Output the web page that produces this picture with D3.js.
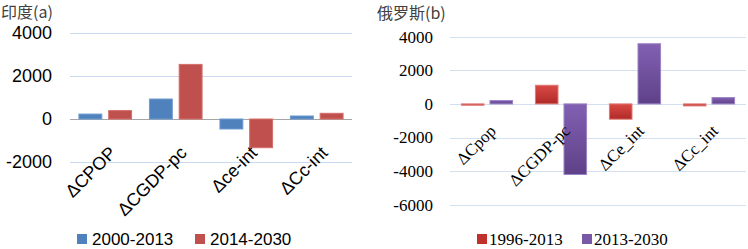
<!DOCTYPE html>
<html>
<head>
<meta charset="utf-8">
<script src="https://cdn.jsdelivr.net/npm/d3@7"></script>
<style>
  body { margin: 0; background: #fff; }
  svg { display: block; }
</style>
</head>
<body>
<svg id="chart" width="748" height="249"></svg>
<script>
// 印度 (a)
const indiaCats = ["ΔCPOP", "ΔCGDP-pc", "Δce-int", "ΔCc-int"];
const indiaSeries = ["2000-2013", "2014-2030"];
const india2000 = [230, 930, -465, 140];
const india2014 = [390, 2540, -1335, 265];
const indiaTicks = [-2000, 0, 2000, 4000];

// 俄罗斯 (b)
const russiaCats = ["ΔCpop", "ΔCGDP-pc", "ΔCe_int", "ΔCc_int"];
const russiaSeries = ["1996-2013", "2013-2030"];
const russia1996 = [-80, 1110, -910, -120];
const russia2013 = [200, -4200, 3580, 375];
const russiaTicks = [-6000, -4000, -2000, 0, 2000, 4000];

const svg = d3.select('#chart');

// gradients for the right chart
const defs = svg.append('defs');
function grad(id, c1, c2) {
    const g = defs.append('linearGradient').attr('id', id)
        .attr('x1', 0).attr('y1', 0).attr('x2', 0).attr('y2', 1);
    g.append('stop').attr('offset', '0%').attr('stop-color', c1);
    g.append('stop').attr('offset', '100%').attr('stop-color', c2);
}
grad('gRed', '#da4a44', '#b02a28');
grad('gPurple', '#8160b2', '#5f4188');

function drawPanel(opt) {
    const g = svg.append('g');
    const x0 = d3.scaleBand().domain(opt.cats).range(opt.xr);
    const x1 = d3.scaleBand().domain(opt.series).range([0, x0.bandwidth()])
        .paddingInner(opt.pin).paddingOuter(opt.pout);
    const y = d3.scaleLinear().domain(opt.yd).range(opt.yr);

    // gridlines
    g.selectAll('.grid').data(opt.ticks).join('line')
        .attr('x1', opt.xr[0]).attr('x2', opt.xr[1])
        .attr('y1', d => Math.round(y(d)) + 0.5).attr('y2', d => Math.round(y(d)) + 0.5)
        .attr('stroke', d => (d === 0 ? opt.zeroColor : opt.gridColor))
        .attr('stroke-width', 1);

    // tick labels
    g.selectAll('.tick').data(opt.ticks).join('text')
        .attr('x', opt.tickX).attr('y', d => y(d))
        .attr('dy', '0.35em')
        .attr('text-anchor', 'end')
        .style('font-family', opt.font).style('font-size', opt.fs).style('fill', '#000')
        .text(d => d);

    // bars
    const rows = opt.cats.map((c, i) => opt.series.map((s, j) => ({ cat: c, s: s, v: opt.values[j][i], j: j })));
    g.selectAll('.grp').data(rows).join('g')
        .attr('transform', (d, i) => `translate(${x0(opt.cats[i])},0)`)
        .selectAll('rect').data(d => d).join('rect')
        .attr('x', d => x1(d.s))
        .attr('width', x1.bandwidth())
        .attr('y', d => y(Math.max(0, d.v)))
        .attr('height', d => Math.abs(y(d.v) - y(0)))
        .attr('fill', d => opt.colors[d.j])
        .attr('stroke', d => opt.strokes[d.j])
        .attr('stroke-width', 1);

    // rotated category labels
    g.selectAll('.lab').data(opt.cats).join('text')
        .attr('transform', d => `translate(${x0(d) + x0.bandwidth() / 2 + opt.labDx},${opt.labY}) rotate(-45)`)
        .attr('text-anchor', 'end')
        .style('font-family', opt.font).style('font-size', opt.fs).style('fill', '#000')
        .text(d => d);

    // title
    g.append('text').attr('x', opt.titleX).attr('y', opt.titleY)
        .style('font-family', opt.titleFont).style('font-size', '16px').style('fill', '#404040')
        .text(opt.title);

    // legend
    const leg = g.selectAll('.leg').data(opt.series).join('g')
        .attr('transform', (d, i) => `translate(${opt.legX[i]},${opt.legY})`);
    leg.append('rect').attr('x', 0).attr('y', -11).attr('width', 10).attr('height', 10)
        .attr('fill', (d, i) => opt.legColors[i]);
    leg.append('text').attr('x', opt.legGap).attr('y', 0)
        .style('font-family', opt.font).style('font-size', '17px').style('fill', '#000')
        .text(d => d);
}

drawPanel({
    cats: indiaCats, series: indiaSeries, values: [india2000, india2014],
    ticks: indiaTicks, xr: [70, 352], yd: [-2000, 4000], yr: [162, 33],
    pin: 0.23, pout: 0.3, fs: '18px',
    colors: ['#4f81bd', '#c0504d'], strokes: ['#6f9bd0', '#d46e6b'],
    gridColor: '#c9daf0', zeroColor: '#a6a6a6',
    font: '"Liberation Sans", Arial, sans-serif', tickX: 52,
    labDx: 12, labY: 154,
    title: '印度(a)', titleX: 1, titleY: 18, titleFont: '"Noto Sans CJK SC", sans-serif',
    legX: [77, 195], legY: 245, legGap: 15, legColors: ['#4f81bd', '#c0504d']
});

drawPanel({
    cats: russiaCats, series: russiaSeries, values: [russia1996, russia2013],
    ticks: russiaTicks, xr: [450, 746], yd: [-6000, 4000], yr: [204.7, 36.7],
    pin: 0.21, pout: 0.4, fs: '17px',
    colors: ['url(#gRed)', 'url(#gPurple)'], strokes: ['#e07a76', '#9a82c4'],
    gridColor: '#d2e0f0', zeroColor: '#d2e0f0',
    font: '"Liberation Serif", "Times New Roman", serif', tickX: 433,
    labDx: 10, labY: 132,
    title: '俄罗斯(b)', titleX: 377, titleY: 19, titleFont: '"Noto Sans CJK SC", serif',
    legX: [477, 582], legY: 245, legGap: 12, legColors: ['#c0302c', '#7a58a8']
});
</script>
</body>
</html>
